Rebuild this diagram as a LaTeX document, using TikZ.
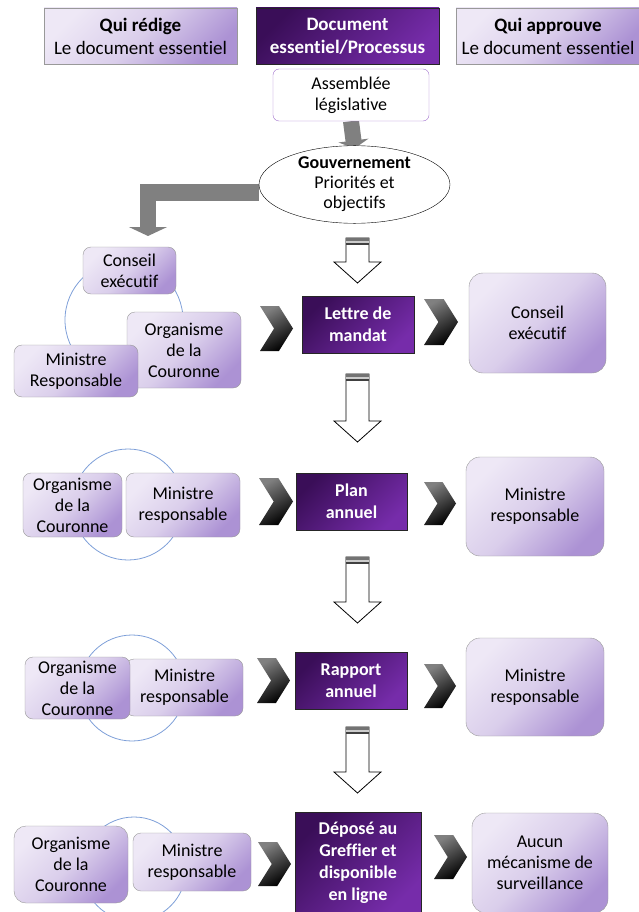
\documentclass[tikz,border=0pt]{standalone}
\usepackage{fontspec}
\setmainfont{Carlito}[Ligatures=NoCommon]
\usetikzlibrary{arrows.meta,shapes.geometric,shapes.symbols,positioning,backgrounds}

\definecolor{lilaclight}{RGB}{238,232,246}
\definecolor{lilacmid}{RGB}{218,206,235}
\definecolor{lilacdark}{RGB}{172,146,212}
\definecolor{plumdark}{RGB}{58,14,88}
\definecolor{plumlight}{RGB}{118,44,170}
\definecolor{ringblue}{RGB}{126,159,216}
\definecolor{pipegray}{RGB}{128,128,128}
\definecolor{frameviolet}{RGB}{160,112,205}

\begin{document}
\begin{tikzpicture}[x=1pt,y=-1pt,font=\fontsize{18}{21}\selectfont]
\tikzstyle{light}=[draw=black!40,rounded corners=8pt,left color=lilaclight,right color=lilacdark,middle color=lilacmid,shading angle=45,text=black,align=center,inner sep=0pt]
\tikzstyle{dark}=[draw=black!85,left color=plumdark,right color=plumlight,shading angle=45,text=white,font=\fontsize{18}{22}\selectfont\bfseries,align=center,inner sep=0pt]
\tikzstyle{head}=[font=\fontsize{19}{23}\selectfont,minimum height=56pt]
\tikzstyle{chev}=[signal,signal from=west,signal to=east,signal pointer angle=116,inner sep=0pt,top color=black!50,bottom color=black,shading angle=30]
\tikzstyle{hollow}=[draw,fill=white,line width=0.8pt,line join=miter]
\tikzstyle{pipe}=[draw=pipegray,line width=16pt,-{Triangle[length=8pt,width=30pt]},pipegray]
\tikzstyle{ring}=[draw=ringblue,line width=0.8pt]

\useasboundingbox (0,0) rectangle (639,912);

% header
\node[light,head,rounded corners=0pt,minimum width=193pt] (redige) at (140.5,36) {\textbf{Qui rédige}\\Le document essentiel};
\node[dark,head,font=\fontsize{19}{23}\selectfont\bfseries,minimum width=183pt] (docu) at (347.5,36) {Document\\essentiel/Processus};
\node[light,head,rounded corners=0pt,minimum width=184pt] (approuve) at (548,36) {\textbf{Qui approuve}\\Le document essentiel};

\node[draw=frameviolet,fill=white,rounded corners=6pt,align=center,minimum width=156pt,minimum height=52pt,inner sep=0pt] (assemb) at (351,95) {Assemblée\\législative};
\node[ellipse,draw,fill=white,align=center,minimum width=191pt,minimum height=75pt,inner sep=0pt,font=\fontsize{18}{20}\selectfont] (gouv) at (354.5,184.5) {\textbf{Gouvernement}\\Priorités et\\objectifs};
\coordinate (drop) at (148,236);
\begin{scope}[on background layer]
\draw[pipe] (assemb.south) -- ([yshift=-3pt]gouv.north);
\draw[pipe,line join=miter,-{Triangle[length=9pt,width=38pt]}] ([yshift=-8pt]gouv.west) -| (drop);
\end{scope}

% lettre de mandat
\draw[ring] (124,320) circle (59);
\node[light,minimum width=93pt,minimum height=47pt] (conseil) at (129.5,270.5) {Conseil\\exécutif};
\node[light,minimum width=114pt,minimum height=76pt] (orgA) at (184,350) {Organisme\\de la\\Couronne};
\node[light,minimum width=124pt,minimum height=52pt] (minA) at (76,371) {Ministre\\Responsable};
\node[chev,minimum width=33pt,minimum height=45pt] (chA1) at (276.5,328.5) {};
\node[dark,minimum width=112pt,minimum height=57pt] (lettre) at (358,324.5) {Lettre de\\mandat};
\node[chev,minimum width=34pt,minimum height=46pt] (chA2) at (441,322) {};
\node[light,rounded corners=14pt,minimum width=137pt,minimum height=100pt] (conseilB) at (537.5,323) {Conseil\\exécutif};

% plan annuel
\draw[ring] (128,504.5) circle (55.5);
\node[light,minimum width=99pt,minimum height=64pt] (orgB) at (72.5,505) {Organisme\\de la\\Couronne};
\node[light,minimum width=114pt,minimum height=64pt] (minB) at (183,505) {Ministre\\responsable};
\node[chev,minimum width=34pt,minimum height=47pt] (chB1) at (276,501.5) {};
\node[dark,minimum width=111pt,minimum height=57pt] (plan) at (351.5,501.5) {Plan\\annuel};
\node[chev,minimum width=32pt,minimum height=43pt] (chB2) at (440,503.5) {};
\node[light,rounded corners=14pt,minimum width=138pt,minimum height=99pt] (minBb) at (535,506.5) {Ministre\\responsable};

% rapport annuel
\draw[ring] (132,688) circle (53);
\node[light,minimum width=117pt,minimum height=57pt] (minC) at (184.5,687.5) {Ministre\\responsable};
\node[light,minimum width=105pt,minimum height=62pt] (orgC) at (77.5,688) {Organisme\\de la\\Couronne};
\node[chev,minimum width=33pt,minimum height=45pt] (chC1) at (273.5,680.5) {};
\node[dark,minimum width=112pt,minimum height=57pt] (rapport) at (351,680.5) {Rapport\\annuel};
\node[chev,minimum width=32pt,minimum height=44pt] (chC2) at (440,686) {};
\node[light,rounded corners=14pt,minimum width=138pt,minimum height=98pt] (minCb) at (535,687) {Ministre\\responsable};

% depose
\draw[ring] (134,869) circle (52);
\node[light,rounded corners=12pt,minimum width=114pt,minimum height=77pt] (orgD) at (71,864.5) {Organisme\\de la\\Couronne};
\node[light,minimum width=118pt,minimum height=58pt] (minD) at (192,862) {Ministre\\responsable};
\node[chev,minimum width=33pt,minimum height=44pt] (chD1) at (274.5,864) {};
\node[dark,minimum width=126pt,minimum height=101pt] (depose) at (358,862.5) {Déposé au\\Greffier et\\disponible\\en ligne};
\node[chev,minimum width=33pt,minimum height=44pt] (chD2) at (450.5,857) {};
\node[light,rounded corners=14pt,minimum width=136pt,minimum height=100pt] (aucun) at (540,863) {Aucun\\mécanisme de\\surveillance};

% fleches creuses
\foreach \t/\b in {238/283,374/442,557/623,727/793}{
  \draw[hollow] (346,\t) -- (346,\b-21) -- (334,\b-21) -- (357.5,\b) -- (381,\b-21) -- (369,\b-21) -- (369,\t) -- cycle;
  \fill[black!55] (346,\t) rectangle (369,\t+3);
  \fill[black!20] (346,\t+3) rectangle (369,\t+5);
  \draw[black!75,line width=1.2pt] (346,\t+6) -- (369,\t+6);
}
\end{tikzpicture}
\end{document}
